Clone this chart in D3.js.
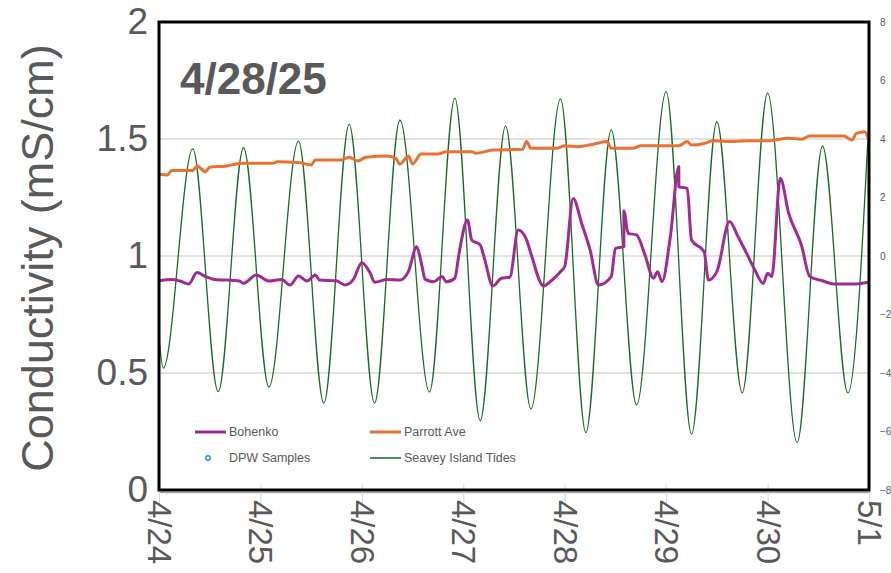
<!DOCTYPE html>
<html>
<head>
<meta charset="utf-8">
<script src="https://cdn.jsdelivr.net/npm/d3@7"></script>
<style>
  body { margin: 0; background: #fff; }
  svg { display: block; font-family: "Liberation Sans", Arial, sans-serif; }
</style>
</head>
<body>
<svg></svg>
<script>
var width = 891;
var height = 573;

var margin = {
  left: 159,
  top: 22,
  right: 22,
  bottom: 83
};

// [hours after 4/24 00:00, conductivity mS/cm]
var bohenko = [
  [0, 0.894], [3.4, 0.900], [5.6, 0.893], [7.8, 0.880], [9.4, 0.929], [11.0, 0.912],
  [13.2, 0.900], [16.5, 0.897], [19.7, 0.893], [20.8, 0.883], [23.5, 0.919], [26.2, 0.893],
  [29.5, 0.900], [31.7, 0.876], [33.8, 0.915], [35.5, 0.893], [37.1, 0.919], [38.7, 0.897],
  [42.6, 0.894], [44.7, 0.876], [46.3, 0.900], [48.5, 0.971], [50.1, 0.926], [51.2, 0.888],
  [54.5, 0.900], [57.8, 0.897], [59.3, 0.933], [61.0, 1.040], [62.1, 0.976], [63.7, 0.900],
  [65.9, 0.890], [67.6, 0.912], [68.6, 0.890], [70.6, 0.905], [71.6, 1.011], [73.3, 1.154],
  [74.6, 1.068], [76.2, 1.047], [77.3, 0.990], [79.3, 0.872], [81.7, 0.905], [83.6, 0.909],
  [85.7, 1.111], [87.1, 1.068], [88.7, 1.011], [91.1, 0.872], [93.6, 0.897], [95.3, 0.933],
  [96.7, 0.955], [98.0, 1.246], [100.2, 1.140], [102.9, 1.026], [104.5, 0.876], [107.2, 0.912],
  [108.6, 1.033], [110.0, 1.040], [110.7, 1.192], [111.9, 1.097], [113.2, 1.090], [115.9, 1.004],
  [117.3, 0.905], [118.6, 0.933], [119.7, 0.890], [121.3, 1.083], [123.0, 1.382], [123.9, 1.296],
  [125.2, 1.289], [126.8, 1.068], [129.0, 1.018], [130.8, 0.897], [132.8, 0.933], [135.2, 1.147],
  [137.1, 1.083], [140.4, 0.976], [141.6, 0.940], [143.1, 0.883], [144.2, 0.926], [145.3, 0.912],
  [147.8, 1.332], [149.6, 1.182], [152.3, 1.047], [154.3, 0.912], [157.7, 0.894], [160.0, 0.880],
  [164.3, 0.880], [168.0, 0.888]
];

var parrott = [
  [0, 1.349], [2.3, 1.346], [3.9, 1.365], [8.8, 1.365], [9.9, 1.385], [11.0, 1.360],
  [12.7, 1.379], [16.5, 1.385], [18.6, 1.392], [20.8, 1.396], [27.9, 1.396], [28.9, 1.403],
  [33.8, 1.400], [36.0, 1.389], [37.6, 1.410], [43.6, 1.410], [45.8, 1.422], [47.4, 1.406],
  [49.1, 1.422], [54.5, 1.427], [56.1, 1.417], [57.8, 1.393], [59.3, 1.427], [60.5, 1.393],
  [62.1, 1.436], [66.4, 1.436], [68.6, 1.446], [74.0, 1.446], [75.2, 1.439], [79.0, 1.453],
  [86.5, 1.456], [87.7, 1.489], [88.7, 1.460], [94.7, 1.460], [96.9, 1.471], [99.1, 1.467],
  [103.4, 1.479], [106.6, 1.489], [107.8, 1.460], [112.7, 1.460], [114.3, 1.471], [123.0, 1.471],
  [125.2, 1.489], [126.3, 1.474], [129.5, 1.481], [131.7, 1.492], [136.0, 1.489], [140.4, 1.493],
  [144.7, 1.492], [149.1, 1.503], [152.3, 1.499], [154.5, 1.513], [162.7, 1.513], [164.1, 1.496],
  [165.4, 1.524], [167.0, 1.531], [168.0, 1.489]
];

// [hours after 4/24 00:00, tide height ft] - highs and lows
var tides = [
  [0, -2.77], [1.4, -3.83], [8.0, 3.66], [14.0, -4.64], [20.6, 3.70], [26.5, -4.48],
  [33.1, 3.93], [39.0, -5.03], [45.5, 4.50], [51.6, -5.03], [57.9, 4.65], [64.0, -4.65],
  [70.2, 5.40], [76.5, -5.63], [82.8, 4.44], [88.8, -5.23], [95.1, 5.37], [101.4, -6.04],
  [107.6, 4.31], [113.5, -5.09], [120.0, 5.62], [126.5, -6.09], [132.8, 4.59], [138.8, -4.68],
  [144.9, 5.57], [151.6, -6.38], [157.7, 3.76], [163.8, -4.68], [168.0, 4.72]
];

var dayLabels = ["4/24", "4/25", "4/26", "4/27", "4/28", "4/29", "4/30", "5/1"];
var leftTicks = [0, 0.5, 1, 1.5, 2];
var rightTicks = [-8, -6, -4, -2, 0, 2, 4, 6, 8];

var start = new Date(2025, 3, 24);
function toDate(h){ return d3.timeHour.offset(start, h); }

var svg = d3.select("svg")
  .attr("width", width)
  .attr("height", height);

var x = d3.scaleTime()
  .domain([start, d3.timeDay.offset(start, 7)])
  .range([margin.left, width - margin.right]);

var y = d3.scaleLinear()
  .domain([0, 2])
  .range([height - margin.bottom, margin.top]);

var yTide = d3.scaleLinear()
  .domain([-8, 8])
  .range([height - margin.bottom, margin.top]);

var grey = "#595959";

// gridlines
svg.append("g")
  .selectAll("line")
  .data([0.5, 1, 1.5])
  .enter()
  .append("line")
  .attr("x1", margin.left)
  .attr("x2", width - margin.right)
  .attr("y1", d => y(d))
  .attr("y2", d => y(d))
  .attr("stroke", "#d9d9d9")
  .attr("stroke-width", 1.5);

// x axis with rotated day labels
var dayTicks = dayLabels.map((d, i) => d3.timeDay.offset(start, i));
var xAxis = d3.axisBottom(x)
  .tickValues(dayTicks)
  .tickFormat((d, i) => dayLabels[i])
  .tickSize(13)
  .tickSizeOuter(0);

var xDraw = svg.append("g")
  .attr("transform", "translate(0," + (height - margin.bottom + 2) + ")")
  .call(xAxis);
xDraw.select(".domain").attr("stroke", "#a6a6a6").attr("stroke-width", 1.5);
xDraw.selectAll(".tick line").attr("stroke", "#d9d9d9").attr("y1", -8);
xDraw.selectAll(".tick text")
  .attr("transform", "rotate(90)")
  .attr("x", 8)
  .attr("y", 0)
  .attr("dy", "0.35em")
  .style("text-anchor", "start")
  .style("font-size", "33px")
  .attr("fill", grey);

// left axis
var yAxis = d3.axisLeft(y)
  .tickValues(leftTicks)
  .tickFormat(d3.format(""))
  .tickSize(0)
  .tickPadding(11);
var yDraw = svg.append("g")
  .attr("transform", "translate(" + margin.left + ",0)")
  .call(yAxis);
yDraw.select(".domain").remove();
yDraw.selectAll("text").style("font-size", "37px").attr("fill", grey);

// right axis (tides), mostly cut off by the page edge
var rAxis = d3.axisRight(yTide)
  .tickValues(rightTicks)
  .tickSize(0)
  .tickPadding(11);
var rDraw = svg.append("g")
  .attr("transform", "translate(" + (width - margin.right) + ",0)")
  .call(rAxis);
rDraw.select(".domain").remove();
rDraw.selectAll("text").style("font-size", "10px").attr("fill", grey);

// axis title
svg.append("text")
  .attr("transform", "translate(53," + (y(1) + 2) + ") rotate(-90)")
  .style("text-anchor", "middle")
  .style("font-size", "45px")
  .attr("fill", grey)
  .text("Conductivity (mS/cm)");

// series
var tideLine = d3.line()
  .x(d => x(toDate(d[0])))
  .y(d => yTide(d[1]))
  .curve(d3.curveMonotoneX);

var condLine = d3.line()
  .x(d => x(toDate(d[0])))
  .y(d => y(d[1]))
  .curve(d3.curveMonotoneX);

svg.append("path")
  .datum(tides)
  .attr("d", tideLine)
  .attr("fill", "none")
  .attr("stroke", "#196B24")
  .attr("stroke-width", 1.3);

svg.append("path")
  .datum(parrott)
  .attr("d", condLine)
  .attr("fill", "none")
  .attr("stroke", "#E97132")
  .attr("stroke-width", 3)
  .attr("stroke-linejoin", "round");

svg.append("path")
  .datum(bohenko)
  .attr("d", condLine)
  .attr("fill", "none")
  .attr("stroke", "#A02B93")
  .attr("stroke-width", 3)
  .attr("stroke-linejoin", "round");

// plot frame
svg.append("rect")
  .attr("x", margin.left)
  .attr("y", margin.top)
  .attr("width", width - margin.left - margin.right)
  .attr("height", height - margin.top - margin.bottom)
  .attr("fill", "none")
  .attr("stroke", "#000")
  .attr("stroke-width", 3);

// date stamp
svg.append("text")
  .attr("x", 180)
  .attr("y", 94)
  .style("font-size", "44px")
  .style("font-weight", "bold")
  .attr("fill", grey)
  .text("4/28/25");

// legend
var legendItems = [
  {name: "Bohenko", color: "#A02B93", type: "line", w: 3, pos: [195, 432]},
  {name: "Parrott Ave", color: "#E97132", type: "line", w: 3, pos: [370, 432]},
  {name: "DPW Samples", color: "#0F9ED5", type: "dot", pos: [195, 458]},
  {name: "Seavey Island Tides", color: "#196B24", type: "line", w: 1.5, pos: [370, 458]}
];

var legend = svg.append("g")
  .selectAll("g")
  .data(legendItems)
  .enter()
  .append("g")
  .attr("transform", d => "translate(" + d.pos[0] + "," + d.pos[1] + ")");

legend.filter(d => d.type == "line")
  .append("line")
  .attr("x2", 31)
  .attr("stroke", d => d.color)
  .attr("stroke-width", d => d.w);

legend.filter(d => d.type == "dot")
  .append("circle")
  .attr("cx", 13)
  .attr("r", 2.2)
  .attr("fill", "none")
  .attr("stroke", d => d.color)
  .attr("stroke-width", 1.5);

legend.append("text")
  .attr("x", 34)
  .attr("dy", "0.35em")
  .style("font-size", "12.5px")
  .attr("fill", grey)
  .text(d => d.name);
</script>
</body>
</html>
